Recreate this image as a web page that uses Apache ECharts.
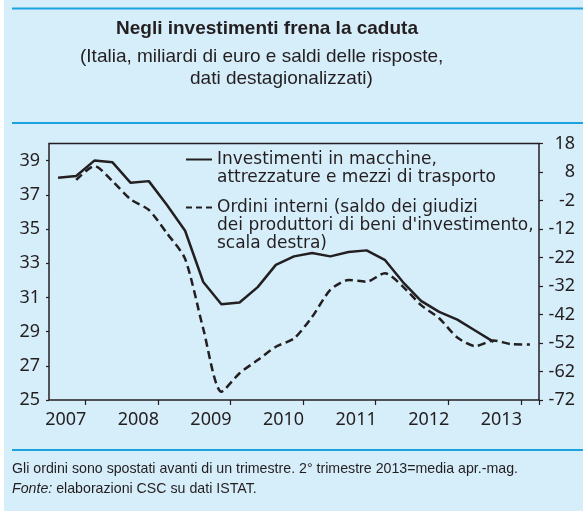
<!DOCTYPE html>
<html>
<head>
<meta charset="utf-8">
<script src="https://cdn.jsdelivr.net/npm/echarts@6/dist/echarts.min.js"></script>
<style>
  html, body { margin: 0; padding: 0; background: #fff; }
  #chart { width: 583px; height: 511px; }
</style>
</head>
<body>
<div id="chart"></div>
<script>
// trimestri 2007T1 - 2013T3
const quarters = [
  '2007 T1', '2007 T2', '2007 T3', '2007 T4',
  '2008 T1', '2008 T2', '2008 T3', '2008 T4',
  '2009 T1', '2009 T2', '2009 T3', '2009 T4',
  '2010 T1', '2010 T2', '2010 T3', '2010 T4',
  '2011 T1', '2011 T2', '2011 T3', '2011 T4',
  '2012 T1', '2012 T2', '2012 T3', '2012 T4',
  '2013 T1', '2013 T2', '2013 T3'
]
// investimenti in macchine (miliardi, scala sinistra)
const investimenti = [
  38.0, 38.1, 39.0, 38.9,
  37.7, 37.8, 36.4, 34.9,
  31.9, 30.6, 30.7, 31.6,
  32.9, 33.4, 33.6, 33.4,
  33.65, 33.75, 33.2, 31.9,
  30.8, 30.15, 29.7, 29.05,
  28.4, null, null
]
// ordini interni (saldi, scala destra) - spostati avanti di un trimestre
const ordini = [
  null, 5.2, 10.1, 4.8,
  -1.6, -5.3, -13.5, -22.5,
  -47, -69.1, -62.6, -58,
  -53.3, -50.4, -42.8, -33.4,
  -29.9, -30.5, -27.5, -32.2,
  -38.7, -43.3, -50.1, -53.1,
  -51.1, -52.4, -52.5
]
const leftTicks = { min: 25, max: 40, step: 2 }
const rightTicks = { min: -72, max: 18, step: 10 }

const nameInv = 'Investimenti in macchine,\nattrezzature e mezzi di trasporto'
const nameOrd = "Ordini interni (saldo dei giudizi\ndei produttori di beni d'investimento,\nscala destra)"

const ink = '#231f20'
const bg = '#d6edfa'
const rule = '#1aa3df'
const axisFont = 'Noto Sans'
const legendFont = 'DejaVu Sans'
const lh = 18

// righe vuote in testa: l'icona resta allineata alla prima riga
const firstLineAligned = (name) => '\n'.repeat(name.split('\n').length - 1) + name

const chart = echarts.init(document.getElementById('chart'))

chart.setOption({
  backgroundColor: '#ffffff',
  animation: false,
  graphic: [
    { type: 'rect', z: -10, shape: { x: 4, y: 0, width: 579, height: 511 }, style: { fill: bg } },
    { type: 'rect', shape: { x: 12, y: 7.5, width: 571, height: 2 }, style: { fill: rule } },
    { type: 'rect', shape: { x: 12, y: 122, width: 571, height: 2 }, style: { fill: rule } },
    { type: 'rect', shape: { x: 12, y: 449, width: 571, height: 2 }, style: { fill: rule } },
    {
      type: 'text', left: 12, top: 462,
      style: {
        text: 'Gli ordini sono spostati avanti di un trimestre. 2° trimestre 2013=media apr.-mag.',
        font: '14.2px "Liberation Sans", sans-serif', fill: ink
      }
    },
    {
      type: 'text', left: 12, top: 482,
      style: {
        text: '{i|Fonte:} elaborazioni CSC su dati ISTAT.',
        font: '14.2px "Liberation Sans", sans-serif', fill: ink,
        rich: { i: { fontStyle: 'italic', fontFamily: 'Liberation Sans', fontSize: 14.2, color: ink } }
      }
    }
  ],
  title: [
    {
      text: 'Negli investimenti frena la caduta', left: 116, top: 19, padding: 0,
      textStyle: { fontFamily: 'Liberation Sans', fontWeight: 'bold', fontSize: 19, color: ink }
    },
    {
      text: '(Italia, miliardi di euro e saldi delle risposte,', left: 80, top: 47.5, padding: 0,
      textStyle: { fontFamily: 'Liberation Sans', fontWeight: 'normal', fontSize: 19, color: ink }
    },
    {
      text: 'dati destagionalizzati)', left: 190, top: 69.5, padding: 0,
      textStyle: { fontFamily: 'Liberation Sans', fontWeight: 'normal', fontSize: 19, color: ink }
    }
  ],
  legend: [
    {
      data: [nameInv], left: 185, top: 132.5, padding: 0,
      itemWidth: 26, itemHeight: 14,
      formatter: firstLineAligned,
      itemStyle: { opacity: 0 },
      textStyle: { fontFamily: legendFont, fontSize: 17, color: ink, lineHeight: lh }
    },
    {
      data: [nameOrd], left: 185, top: 162.5, padding: 0,
      itemWidth: 26, itemHeight: 14,
      formatter: firstLineAligned,
      itemStyle: { opacity: 0 },
      lineStyle: { type: [6, 4] },
      textStyle: { fontFamily: legendFont, fontSize: 17, color: ink, lineHeight: lh }
    }
  ],
  grid: {
    left: 49, right: 44, top: 143.5, bottom: 111,
    show: true, borderColor: ink, borderWidth: 1.5, backgroundColor: 'transparent'
  },
  xAxis: {
    type: 'category',
    data: quarters,
    boundaryGap: true,
    axisLine: { show: false, onZero: false },
    axisTick: {
      show: true, length: 5, lineStyle: { color: ink, width: 1.2 },
      interval: (i) => i % 4 === 2
    },
    axisLabel: {
      interval: (i) => i % 4 === 2,
      formatter: (v) => v.slice(0, 4),
      align: 'right', padding: [0, 8, 0, 0], margin: 11,
      fontFamily: axisFont, fontSize: 18, color: ink
    },
    splitLine: { show: false }
  },
  yAxis: [
    {
      type: 'value', position: 'left',
      min: leftTicks.min, max: leftTicks.max, interval: leftTicks.step,
      axisLine: { show: false },
      axisTick: { show: true, length: 3, lineStyle: { color: ink, width: 1.2 } },
      axisLabel: { showMaxLabel: false, margin: 9, fontFamily: axisFont, fontSize: 18, color: ink },
      splitLine: { show: false }
    },
    {
      type: 'value', position: 'right',
      min: rightTicks.min, max: rightTicks.max, interval: rightTicks.step,
      axisLine: { show: false },
      axisTick: { show: true, length: 4, lineStyle: { color: ink, width: 1.2 } },
      axisLabel: { align: 'right', margin: 36, fontFamily: axisFont, fontSize: 18, color: ink },
      splitLine: { show: false }
    }
  ],
  series: [
    {
      name: nameInv,
      type: 'line',
      yAxisIndex: 0,
      data: investimenti,
      symbol: 'none',
      lineStyle: { color: ink, width: 2.5 },
      itemStyle: { color: ink }
    },
    {
      name: nameOrd,
      type: 'line',
      yAxisIndex: 1,
      data: ordini,
      symbol: 'none',
      smooth: 0.25,
      lineStyle: { color: ink, width: 2.5, type: [8, 4.5] },
      itemStyle: { color: ink }
    }
  ]
})
</script>
</body>
</html>
